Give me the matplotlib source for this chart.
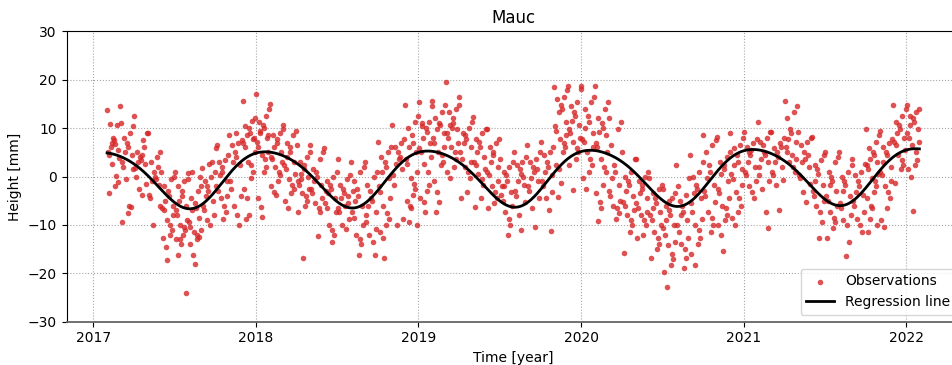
import matplotlib
matplotlib.use("Agg")
import matplotlib.pyplot as plt
import numpy as np

# ---- data (heights in mm, grouped by month) ----
station = "Mauc"
first_month = 2017 + 1 / 12   # first observation month (Feb 2017)

heights_by_month = [
    [13.7, 14.6, 10.6, 10.9, 7.5, 6.8, 6, 5.5, 5, 4.5, 3.8, 2.5, 0.2, -1.2, -2, -3.5, 7, 8],
    [11, 10.5, 9, 8, 7, 6, 5, 4.5, 3, 2, 1.5, -0.5, -6, -6.3, -7.5, -9.3],
    [12.6, 8.9, 7.5, 5, 4, 3.5, 3, 2.5, 1.8, 0, -1.5, -2.5, -3.8, 6, 4.5],
    [9, 5, 4, 3, 1, 0, -1, -1.8, -3.8, -4.5, -6, -10, -0.5, 2],
    [1, 0, -0.5, -2, -3, -4, -5, -6, -6.5, -7, -8, -9, -10, -11, -12, -12.7, -14.5, -17.3],
    [1, 0.8, -1, -2, -3, -4, -5, -6, -7, -8, -9, -10, -10.5, -11, -12, -13, -13, -14, -16.2, -24],
    [-0.5, -2, -3, -4.5, -5.5, -6.5, -7, -8.5, -9.5, -10.5, -11, -11.5, -12, -12.5, -13, -14, -16.2, -18, 1, 0],
    [1.7, 1, 0, -1, -2, -3, -4, -5, -6, -7, -8, -9, -10, 3, 2.5],
    [5.8, 4.4, 3.5, 3, 2, 1, 0.3, -1, -2, -3, -4, -4.5, -6, -7.3, -8.7, 6.5],
    [8.5, 7.5, 7, 6.5, 5, 4, 3, 2.3, -1, -2.5, -4, -6, -8, -10, 9],
    [15.7, 12, 11.5, 10.5, 10, 9, 8.5, 7.8, 7, 6, 5, 3, 2.3, 1, -0.4, -2.5, -4.5, -8, -8.7, 8],
    [17, 14, 12.6, 11.3, 10.6, 10, 9, 8, 7.1, 6, 5, 4.4, 3.7, 2, 1, -4.5, -6.3, -8.3, 9.5, 8.5],
    [14.9, 9.9, 9, 8.5, 7.8, 7, 6, 5, 4, 3.7, 3, 2, 1, 0.3, -1, -2, -3.2, -3.8],
    [10.6, 9.5, 8.5, 7, 6, 5, 4, 3, 2.3, 1.6, 0.5, -0.5, -1.8, -2.5, -3.5, -5, -6.6],
    [6.5, 5, 4, 3, 2.3, 1.5, 0.5, 0, -1, -1.8, -2.5, -3.5, -4, -5, -6, -7.3, -0.5, -16.9],
    [6.5, 5, 3.7, 1.6, 1, 0, -1, -1.8, -2.5, -3.5, -4.5, -5.5, -6.5, -7.3, -12.3],
    [5.8, 1, 0, -1, -1.8, -2.5, -3.5, -4.5, -5.5, -6.5, -7.3, -10, -11, -12, -13.5, -3],
    [3.7, 0.3, -0.5, -1.8, -2.5, -3.5, -4.5, -5.5, -6.5, -7.3, -8.7, -10, -10.8, -4, -6],
    [3, 2, 1, -1, -2.5, -4, -5, -6, -7.3, -8.5, -10, -12, -13, -14, -16.2, -3],
    [3, 1, 0, -1.8, -3, -4.5, -6, -7.3, -8, -9.3, -10.8, -12, -13.5, -16.2, -5],
    [7.1, 6, 5, 4, 3, 2, 1, -0.4, -2, -3.2, -4.5, -6, -7.5, -8.7, -10, -11.5, -12.8, -16.8],
    [10.6, 7.8, 7, 6, 5, 3.7, 2.5, 1.5, 0.3, -1.8, -8.7, -10, 4],
    [14.7, 12.6, 11.3, 10, 8.5, 7, 6, 5, 3.7, 2.5, 1, -0.4, -1.5, -2.5, -3.8, -5, -6, -6.6, -9.3, -10],
    [15.4, 14.5, 11.3, 10.5, 10, 9.2, 8, 7, 5.8, 5, 4, 2.5, 1, -1.8, -3, -4.5, -5.2, -7.3, 11],
    [15.7, 14.7, 13.3, 12, 11, 10.6, 9.9, 9, 8, 7, 6, 5, 4.4, 3, 2.3, -1, -3.2, -5.2, -7.3],
    [19.5, 14.7, 14, 13.3, 12, 11, 10.6, 9.9, 9, 8, 7, 6, 5, 3.7, 2, 1, -0.4, 10],
    [16.4, 11.3, 10, 9, 8.5, 7.8, 7, 6, 5, 3.7, 3, 2, 1, -0.4, -3.2, -4.5],
    [12.3, 9.9, 9, 7.8, 7.1, 6, 5, 4, 3, 2.3, 1.6, 0.5, -0.5, -1.8, -4.5, -6.3],
    [9.9, 7.8, 7, 6, 5, 4.4, 3, 2, 1, 0.3, -1, -2, -3.2, -4.5, -5.5, -6.6],
    [3.7, 3, 2, 1, 0.3, -1, -2, -3.2, -3.8, -5, -6, -7.3, -8.7, -10, -12, -2],
    [5, 4, 3, 2.3, 1.6, 0.5, -1, -1.8, -3, -4, -5.2, -8, -11, 0],
    [6.5, 5, 3.7, 3, 2, 1, -0.4, -1, -2, -3, -4.5, -6.6, -10.4, 1.5],
    [7.1, 6, 5, 4.4, 3, 2, 1, 0.3, -1, -2, -3.2, -4.5, -6.9, -11.3],
    [18.5, 17.8, 16.5, 16, 14.7, 14, 13.3, 11.3, 10.5, 9.5, 8.5, 7.8, 7, 6, 5, 2.3, 1.6, -1.4, -4.2],
    [18.8, 18.1, 15.4, 14.5, 13.3, 12.6, 11.5, 10.6, 9.9, 9, 8, 7.1, 5.8, 5, 3.7, 2.3, -2.8],
    [18.8, 16.4, 15.4, 14, 12.6, 11.3, 10, 9, 7.8, 7.1, 6, 5, 3.7, 2.3, 1, -0.4, -2.5],
    [18.7, 15.4, 14, 12, 11, 10, 9.2, 8.5, 7, 6, 5, 3.7, 2, 1, -1.8, -3.5, -5.2, -6.6, -9.1],
    [12, 11.3, 9.9, 6.5, 2.3, 1, -0.4, -1.8, -3, -4, -5, -6, -6.6, -7.5, -8.7],
    [5, 3.7, 1, 0, -1, -1.8, -3, -4, -5.2, -6, -7, -8, -9, -10, -11.4, -15.9],
    [3.7, 1, 0, -1, -1.8, -2.5, -3.5, -4.5, -5.5, -6.5, -7.3, -8, -9, -10, -12, -12.8],
    [-0.4, -1.8, -2.5, -3.5, -4.5, -5.5, -6.5, -7.3, -8, -9, -10, -11.4, -12.8, -14, -15, -16.9],
    [-2.5, -3.5, -4.5, -6, -7, -8, -9, -10, -10.7, -12, -13.5, -14.2, -16, -17, -18.3, -19.7, -22.9, -5],
    [2.3, -0.4, -3.8, -5, -6, -7.3, -8, -9, -10, -11.4, -12.8, -14, -15, -16.9, -19, -2],
    [4.4, 3, 1, 0, -1.8, -2.5, -3.5, -4.5, -5.5, -7.3, -8.7, -10, -11, -12.8, -14, -16, -18.3],
    [8.5, 7.5, 6.5, 5, 2.3, 1, -0.4, -1.8, -3, -4, -5.2, -7.3, -8.5, -10, -11.4],
    [8.2, 5, 4, 3, 2.3, 1.6, 0.5, -1, -2.5, -3.5, -4.5, -6, -6.6, -8, -9, -10, -12, -15.3],
    [8.9, 8, 6.5, 5.8, 4.5, 3, 2.3, 1.6, 0.5, -0.5, -1.8, -3.2, -4.5, -6, -7.3, -8.5, -10],
    [9.2, 7.8, 7, 6, 5, 4.4, 3, 2, 1, 0.3, -1, -2, -3.2, -4.5, 5.5],
    [11.3, 9.2, 8, 7.1, 6.5, 5, 3.7, 3, 2, 0.3, -1, -2.5, -7.3, -10.7, 4.5],
    [9.2, 8, 7, 5.8, 5, 4, 3, 2, 1, 0.3, -0.8, -1.8, -6.9, 6],
    [15.7, 14.5, 13.3, 12, 9.9, 9, 7.8, 7.1, 6, 5, 3.7, 3, 2, 1, 4.5],
    [9.2, 8, 7.1, 6.5, 5, 3.7, 3, 2, 0.3, -0.4, -1.5, -3.2, -5.2, 4.5],
    [8.2, 4.4, 3.5, 2.3, 1.6, 0.5, -1, -1.8, -3, -4, -5, -6, -7.3, -9.3, -12.8],
    [5, 4, 3, 1, 0, -1, -1.8, -3, -4, -5, -6, -7.3, -8.5, -9.5, -10.7, -12.8],
    [5, 2.3, 1, 0, -1, -1.8, -3, -4, -5.5, -6.6, -8, -9, -10, -13.5, -16.4],
    [3.7, 2.5, 1, 0.3, -1, -2, -3.2, -3.8, -5, -6, -7.3, -8.7, -10, -11.4],
    [9.9, 8.5, 7.1, 5.8, 5, 4.5, 3.7, 3, 2.3, 1.6, 0.5, -0.4, -1, -2, -3.2, -4.5, -6, -6.6, -8.7, -10, -11.4],
    [9.5, 7.8, 7, 6, 5, 4.4, 3, 2, 1, 0.3, -1, -2, -3.2, -4.5, -6.6, -9, -10.4],
    [14.8, 14, 12.5, 11.3, 10.6, 9.9, 9, 8, 7.1, 6.5, 5.5, 4.5, 3.5, 2.3, 1.6, -1.4],
    [14.7, 14, 13.3, 12.6, 12, 11.3, 10.6, 9.9, 9, 8, 7.1, 6.5, 5, 3.5, 2.3, 1.6, 0, -7.1],
]

# ---- spread each month's values over the days of that month ----
t_obs, h_obs = [], []
for k, vals in enumerate(heights_by_month):
    n = len(vals)
    i = np.arange(n)
    order = np.argsort((i * 0.618 + i * i * 0.377) % 1)   # mix values within the month
    start = first_month + k / 12
    for slot, idx in enumerate(order):
        t_obs.append(start + (slot + 0.5) / n / 12)
        h_obs.append(vals[idx])
t_obs = np.array(t_obs)
h_obs = np.array(h_obs)

# ---- regression: offset + trend + annual + semi-annual terms ----
w = 2 * np.pi * t_obs
A = np.column_stack([np.ones_like(t_obs), t_obs - 2019.5,
                     np.cos(w), np.sin(w), np.cos(2 * w), np.sin(2 * w)])
coef, *_ = np.linalg.lstsq(A, h_obs, rcond=None)
h_fit = A @ coef

# ---- plot ----
fig = plt.figure(figsize=(9.52, 3.65), dpi=100)
ax = fig.add_axes([0.0699, 0.1186, 0.9385, 0.7956])

ax.scatter(t_obs, h_obs, s=16, color='tab:red', alpha=0.8, linewidths=0,
           label='Observations', zorder=2)
ax.plot(t_obs, h_fit, color='black', linewidth=2, label='Regression line', zorder=3)

ax.set_ylim(-30, 30)
ax.set_title(station, fontsize=12)
ax.set_xlabel('Time [year]')
ax.set_ylabel('Height [mm]')
ax.grid(True, linestyle=':', color='gray', alpha=0.7)
ax.spines['bottom'].set_color('#666666')
ax.spines['bottom'].set_linewidth(1.3)
ax.legend(loc='lower right', bbox_to_anchor=(1.003, 0.0))

fig.savefig('out.png', dpi=100)
